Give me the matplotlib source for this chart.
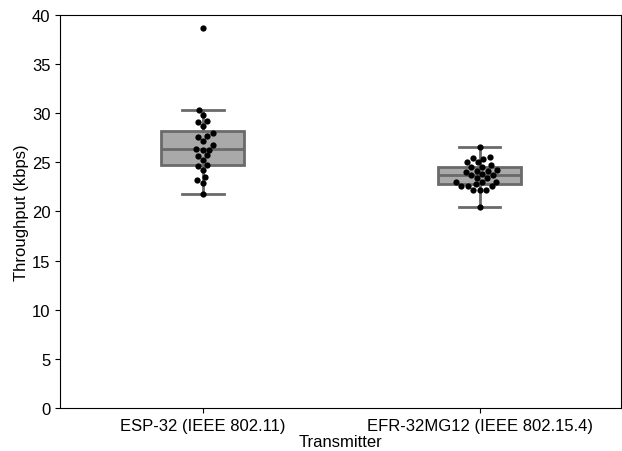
import matplotlib
matplotlib.use('Agg')
import matplotlib.pyplot as plt
import seaborn as sns
import pandas as pd

plt.rcParams['font.family'] = ['Liberation Sans', 'DejaVu Sans']

categories = ['ESP-32 (IEEE 802.11)', 'EFR-32MG12 (IEEE 802.15.4)']

esp32 = [38.7, 30.3, 29.8, 29.2, 29.1, 28.7, 27.95, 27.7, 27.6, 27.2, 26.8, 26.4,
         26.3, 26.3, 25.7, 25.6, 25.2, 24.7, 24.6, 24.2, 23.5, 23.2, 22.9, 21.8]
efr32 = [26.6, 25.5, 25.4, 25.3, 25.0, 25.0, 24.7, 24.5, 24.5, 24.2, 24.15, 24.1,
         24.0, 23.8, 23.7, 23.7, 23.4, 23.4, 23.0, 23.0, 23.0, 22.75, 22.55, 22.55,
         22.55, 22.2, 22.2, 22.2, 20.5]

df = pd.DataFrame({
    'Transmitter': [categories[0]] * len(esp32) + [categories[1]] * len(efr32),
    'Throughput (kbps)': esp32 + efr32,
})

fig, ax = plt.subplots(figsize=(6.22, 4.52), dpi=100)
fig.subplots_adjust(left=0.097, right=0.998, top=0.965, bottom=0.095)

box_face = '#a9a9a9'
box_edge = '#6a6a6a'
ax.boxplot([esp32, efr32], positions=[0, 1], widths=0.3, patch_artist=True,
           showfliers=False, whis=1.5,
           boxprops=dict(facecolor=box_face, edgecolor=box_edge, linewidth=2),
           medianprops=dict(color=box_edge, linewidth=2),
           whiskerprops=dict(color=box_edge, linewidth=2),
           capprops=dict(color=box_edge, linewidth=2),
           zorder=1)

sns.swarmplot(data=df, x='Transmitter', y='Throughput (kbps)', color='black',
              size=4.5, ax=ax, zorder=3)

ax.set_xticks([0, 1])
ax.set_xticklabels(categories, fontsize=12)
ax.set_xlim(-0.515, 1.51)
ax.set_ylim(0, 40)
ax.set_yticks(range(0, 41, 5))
ax.tick_params(labelsize=12)
ax.set_xlabel('Transmitter', fontsize=12, labelpad=1)
ax.set_ylabel('Throughput (kbps)', fontsize=12, labelpad=2)

fig.savefig('out.png', dpi=100)
